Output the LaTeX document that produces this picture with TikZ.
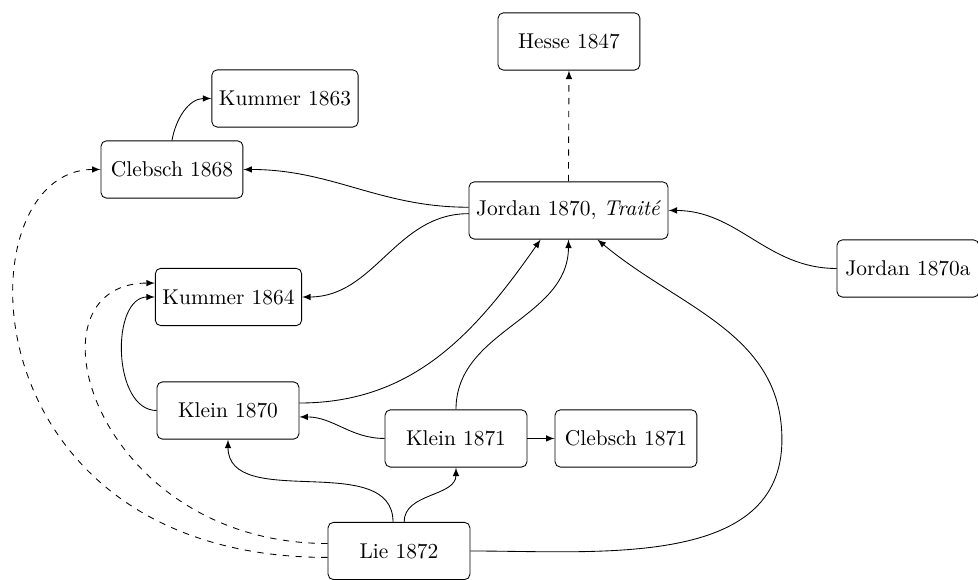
\documentclass[tikz,border=0pt]{standalone}
\usepackage{amsmath}
\usepackage{tikz}
\tikzset{>=latex}
\usetikzlibrary{arrows.meta, positioning}

\begin{document}
\begin{tikzpicture}[
    work/.style={draw, rounded corners=2.5pt, minimum width=2.33cm, minimum height=0.94cm}
]
\useasboundingbox (0,0) rectangle (16.06,-9.51);
% works
\node[work] (hesse) at (9.343,-0.681) {Hesse 1847};
\node[work] (kummerA) at (4.680,-1.617) {Kummer 1863};
\node[work] (clebschA) at (2.824,-2.783) {Clebsch 1868};
\node[work] (jordan) at (9.335,-3.456) {Jordan 1870, \textit{Trait\'e}};
\node[work] (jordanA) at (14.910,-4.409) {Jordan 1870a};
\node[work] (kummerB) at (3.752,-4.877) {Kummer 1864};
\node[work] (kleinA) at (3.744,-6.741) {Klein 1870};
\node[work] (kleinB) at (7.488,-7.200) {Klein 1871};
\node[work] (clebschB) at (10.279,-7.200) {Clebsch 1871};
\node[work] (lie) at (6.552,-9.048) {Lie 1872};
\coordinate (lieturn) at (12.84,-7.22);
% references
\draw[->] (clebschA.north) to[out=80,in=180] (kummerA.west);
\draw[->,dashed] (jordan.north) -- (hesse.south);
\draw[->] ([yshift=1.5pt]jordan.west) to[out=180,in=0] (clebschA.east);
\draw[->] ([yshift=-1.5pt]jordan.west) to[out=180,in=0] (kummerB.east);
\draw[->] (jordanA.west) to[out=180,in=0] (jordan.east);
\draw[->] (kleinA.west) to[out=180,in=180] (kummerB.west);
\draw[->] ([yshift=3.5pt]kleinA.east) to[out=0,in=-125] ([xshift=-13pt]jordan.south);
\draw[->] (kleinB.west) to[out=180,in=0] ([yshift=-3pt]kleinA.east);
\draw[->] (kleinB.north) to[out=90,in=-90] (jordan.south);
\draw[->] (kleinB.east) -- (clebschB.west);
\draw[->] ([xshift=-2.8pt]lie.north) to[out=90,in=-90] (kleinA.south);
\draw[->] ([xshift=2.4pt]lie.north) to[out=90,in=-90] (kleinB.south);
\draw[->] (lie.east) to[out=0,in=-90] (lieturn) to[out=90,in=-40] ([xshift=13.5pt]jordan.south);
\draw[->,dashed] ([yshift=-3pt]lie.west) .. controls +(-6.0,0) and +(-2.3,0) .. (clebschA.west);
\draw[->,dashed] ([yshift=3.5pt]lie.west) .. controls +(-3.83,0) and +(-2.23,0) .. ([yshift=6.5pt]kummerB.west);
\end{tikzpicture}
\end{document}
